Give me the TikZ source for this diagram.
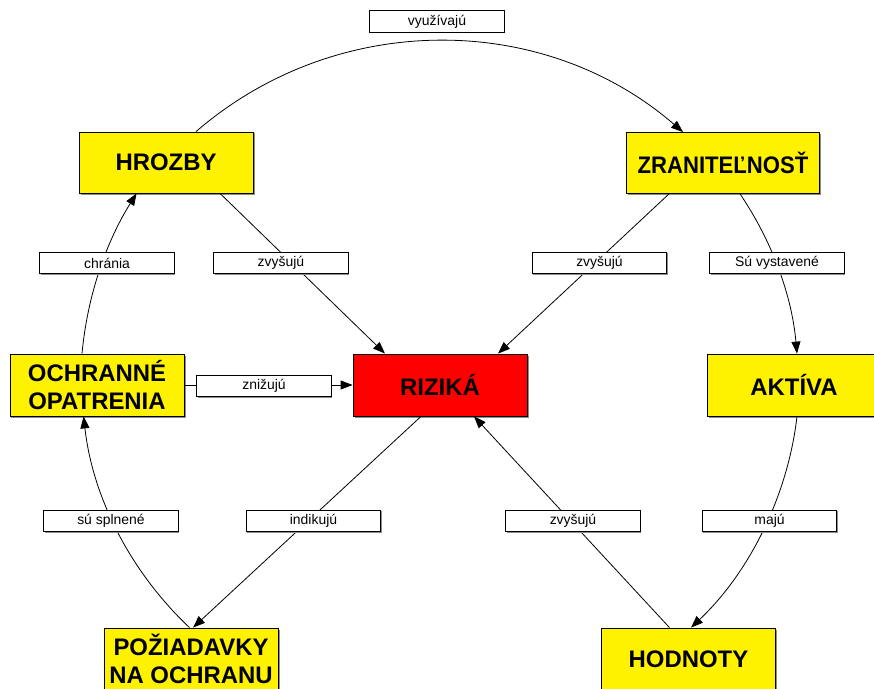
\documentclass[tikz,border=0pt]{standalone}
\usepackage{fontspec}
\setmainfont{Liberation Sans}
\usetikzlibrary{arrows.meta,shadows,calc}
\begin{document}
\begin{tikzpicture}[x=1bp,y=-1bp,
  box/.style={draw=black, line width=0.8bp, fill=yellow, minimum width=174bp, minimum height=62bp, inner sep=0pt, align=center, font=\fontsize{24}{28}\selectfont\bfseries, drop shadow={shadow xshift=1.5bp,shadow yshift=-1.5bp,fill=black!45,opacity=1}},
  lbl/.style={draw=black, line width=0.7bp, fill=white, minimum width=134.5bp, minimum height=21.5bp, inner sep=0pt, font=\fontsize{14}{16}\selectfont, drop shadow={shadow xshift=1.2bp,shadow yshift=-1.2bp,fill=black!45,opacity=1}},
  conn/.style={line width=0.8bp, -{Triangle[length=12bp,width=9bp]}}
]
\useasboundingbox (0,0) rectangle (874,689);
% main boxes
\node[box, minimum height=61bp] (hrozby) at (166,162.5) {HROZBY};
\node[box, minimum width=193bp, minimum height=61bp] (zranit) at (723,163) {\scalebox{0.925}[1]{ZRANITEĽNOSŤ}};
\node[box] (ochr) at (97,385) {OCHRANNÉ\\OPATRENIA};
\node[box, fill=red] (rizika) at (440,385) {RIZIKÁ};
\node[box] (aktiva) at (794,385) {AKTÍVA};
\node[box] (poziad) at (191,659) {POŽIADAVKY\\NA OCHRANU};
\node[box] (hodnoty) at (688.5,659) {HODNOTY};
% curved connectors
\draw[conn] ([xshift=30bp]hrozby.north) .. controls +(140,-121) and +(-140,-121) .. ([xshift=-40bp]zranit.north);
\draw[conn] ([xshift=17bp]zranit.south) .. controls +(32.5,48) and +(-5.2,-57.8) .. ([xshift=3bp]aktiva.north);
\draw[conn] ([xshift=3bp]aktiva.south) .. controls +(-9.2,79.5) and +(58.2,-55) .. ([xshift=2.5bp]hodnoty.north);
\draw[conn] ([xshift=-1.5bp]poziad.north) .. controls +(-59.2,-55.9) and +(9.1,80.9) .. ([xshift=-13.4bp]ochr.south);
\draw[conn] ([xshift=-15bp]ochr.north) .. controls +(5.3,-57.3) and +(-30.6,48.7) .. ([xshift=-29.4bp]hrozby.south);
% straight connectors
\draw[conn] ([xshift=54bp]hrozby.south) -- ([xshift=-55bp]rizika.north);
\draw[conn] ([xshift=-54bp]zranit.south) -- ([xshift=58bp]rizika.north);
\draw[conn] (ochr.east) -- (rizika.west);
\draw[conn] ([xshift=-19bp]rizika.south) -- ([xshift=2bp]poziad.north);
\draw[conn] ([xshift=-19bp]hodnoty.north) -- ([xshift=34bp]rizika.south);
% labels
\node[lbl] (l1) at (437,21.5) {využívajú};
\node[lbl] (l2) at (107,263) {chránia};
\node[lbl] (l3) at (281,263) {zvyšujú};
\node[lbl] (l4) at (599.5,263) {zvyšujú};
\node[lbl] (l5) at (777,263) {Sú vystavené};
\node[lbl] (l6) at (264,386) {znižujú};
\node[lbl] (l7) at (111,521) {sú splnené};
\node[lbl] (l8) at (313.5,521) {indikujú};
\node[lbl] (l9) at (573,521) {zvyšujú};
\node[lbl] (l10) at (769.5,521) {majú};
\end{tikzpicture}
\end{document}
